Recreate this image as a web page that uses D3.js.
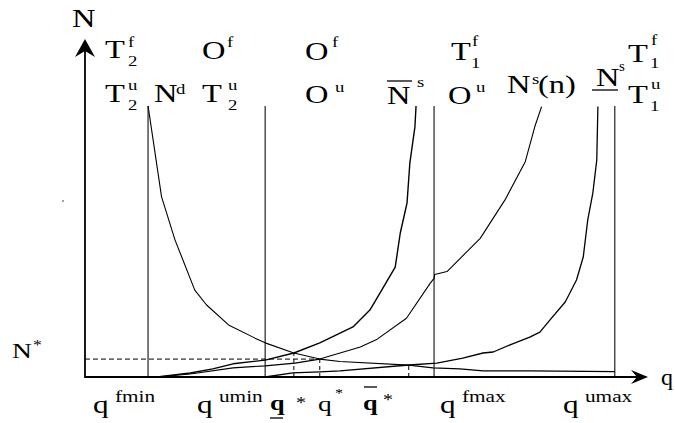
<!DOCTYPE html>
<html>
<head>
<meta charset="utf-8">
<script src="https://cdn.jsdelivr.net/npm/d3@7"></script>
<style>
    html, body { margin: 0; padding: 0; background: #fff; }
    svg { display: block; }
    text { fill: #000; }
</style>
</head>
<body>
<div class="chart-container"></div>
<script>
// Data (q on the horizontal axis, N on the vertical axis, both 0..100).
const boundNames = ['fmin', 'umin', 'fmax', 'umax'];
const boundQ = [11.2, 32.0, 62.0, 94.1];
const boundTop = 80.2;

// equilibrium points: q_*, q*, q-bar*
const eqQ = [37.1, 41.7, 57.5];
const eqN = [7.1, 5.3, 3.55];
const nStar = 5.3;

// N^d (demand)
const demandQ = [11.2, 13.6, 16.0, 19.5, 21.6, 25.5, 30.2, 32.0, 37.1, 41.7, 45.3, 57.5, 61.8, 66.6, 70.7, 79.0, 94.1];
const demandN = [80.2, 53.3, 40.5, 25.7, 21.3, 15.4, 11.5, 10.1, 7.1, 5.3, 4.6, 3.5, 2.7, 2.4, 1.8, 1.8, 1.6];

// upper supply bound (N-bar^s)
const upperQ = [12.8, 18.7, 22.7, 26.3, 32.0, 37.1, 41.7, 45.3, 47.6, 50.6, 52.7, 55.1, 56.0, 57.2, 57.7, 58.6, 58.8];
const upperN = [0, 1.2, 2.4, 3.9, 5.0, 7.1, 10.1, 13.0, 14.8, 19.8, 25.7, 32.5, 42.6, 51.5, 63.3, 74.0, 80.2];

// N^s(n)
const supplyQ = [12.8, 18.7, 26.3, 32.0, 37.3, 41.7, 48.9, 51.9, 57.1, 61.3, 62.0, 62.1, 64.3, 70.2, 74.6, 78.2, 79.9, 81.1];
const supplyN = [0, 0.9, 2.7, 3.3, 4.1, 5.3, 8.9, 11.2, 17.4, 27.7, 29.2, 30.3, 31.2, 41.0, 52.4, 63.7, 74.1, 80.0];

// lower supply bound (N-underline^s)
const lowerQ = [32.0, 36.9, 41.7, 45.3, 57.5, 62.5, 67.1, 70.7, 72.5, 75.5, 79.0, 80.8, 82.6, 85.3, 87.3, 88.5, 89.3, 90.2, 90.9, 91.1];
const lowerN = [0, 1.2, 1.5, 1.8, 3.55, 4.1, 5.6, 7.1, 7.4, 9.5, 11.8, 13.3, 16.9, 22.2, 28.7, 35.5, 46.5, 54.4, 64.2, 80.0];

const WIDTH = 675;
const HEIGHT = 423;
const SX = 1.25; // the original lettering is drawn wide
const FONT = '"Liberation Serif", "Times New Roman", Times, serif';

const svg = d3
    .select('.chart-container')
    .append('svg')
    .attr('width', WIDTH)
    .attr('height', HEIGHT);

const x = d3.scaleLinear().domain([0, 100]).range([85, 648]);
const y = d3.scaleLinear().domain([0, 100]).range([377, 39]);

const lineGenerator = d3.line()
    .x(d => x(d[0]))
    .y(d => y(d[1]));

function zip(qs, ns) {
    return qs.map((q, i) => [q, ns[i]]);
}

function drawAxes() {
    const g = svg.append('g').attr('class', 'axes');

    g.append('line')
        .attr('x1', x(0)).attr('y1', y(0))
        .attr('x2', x(100) - 10).attr('y2', y(0))
        .attr('stroke', '#000').attr('stroke-width', 1.8);

    g.append('line')
        .attr('x1', x(0)).attr('y1', y(0) + 1)
        .attr('x2', x(0)).attr('y2', y(100) + 10)
        .attr('stroke', '#000').attr('stroke-width', 1.8);

    // arrow heads
    const tx = x(100), ty = y(0);
    g.append('path')
        .attr('d', `M${tx},${ty} L${tx - 17},${ty - 7} L${tx - 11},${ty} L${tx - 17},${ty + 7} Z`)
        .attr('fill', '#000');

    const ax = x(0), ay = y(100);
    g.append('path')
        .attr('d', `M${ax},${ay} L${ax - 10},${ay + 18} L${ax},${ay + 12} L${ax + 10},${ay + 18} Z`)
        .attr('fill', '#000');
}

function drawBounds() {
    svg.append('g')
        .selectAll('line')
        .data(boundQ)
        .enter()
        .append('line')
        .attr('x1', d => x(d)).attr('x2', d => x(d))
        .attr('y1', y(0)).attr('y2', y(boundTop))
        .attr('stroke', '#222')
        .attr('stroke-width', 1.2);
}

function drawDashed() {
    const g = svg.append('g').attr('class', 'dashed');

    g.append('line')
        .attr('x1', x(0)).attr('x2', x(eqQ[1]))
        .attr('y1', y(nStar)).attr('y2', y(nStar))
        .attr('stroke', '#000').attr('stroke-width', 1)
        .attr('stroke-dasharray', '5,3');

    g.selectAll('.eq')
        .data(eqQ)
        .enter()
        .append('line')
        .attr('class', 'eq')
        .attr('x1', d => x(d)).attr('x2', d => x(d))
        .attr('y1', y(0)).attr('y2', (d, i) => y(eqN[i]))
        .attr('stroke', '#000').attr('stroke-width', 1)
        .attr('stroke-dasharray', '4,3');
}

function drawCurves() {
    const curves = [
        {points: zip(demandQ, demandN), width: 1.1},
        {points: zip(upperQ, upperN), width: 1.4},
        {points: zip(supplyQ, supplyN), width: 1.1},
        {points: zip(lowerQ, lowerN), width: 1.3}
    ];

    svg.append('g')
        .selectAll('path')
        .data(curves)
        .enter()
        .append('path')
        .attr('d', d => lineGenerator(d.points))
        .style('fill', 'none')
        .attr('stroke', '#000')
        .attr('stroke-width', d => d.width)
        .attr('stroke-linejoin', 'round');
}

// text helper: one piece of lettering, stretched horizontally
function put(g, str, px, py, size, bold, sx) {
    g.append('text')
        .attr('transform', `translate(${px}, ${py}) scale(${sx || SX}, 1)`)
        .attr('font-family', FONT)
        .attr('font-size', size)
        .attr('font-weight', bold ? 'bold' : 'normal')
        .text(str);
}

function rule(g, x1, x2, yy) {
    g.append('line')
        .attr('x1', x1).attr('x2', x2)
        .attr('y1', yy).attr('y2', yy)
        .attr('stroke', '#000').attr('stroke-width', 1.3);
}

function drawLabels() {
    const g = svg.append('g').attr('class', 'labels');

    // axis names
    put(g, 'N', 72, 27, 26);
    put(g, 'q', 661, 385, 24, false, 1);

    // top row
    put(g, 'T', 105, 58, 26); put(g, 'f', 128, 47, 15); put(g, '2', 128, 66, 15);
    put(g, 'O', 202, 59, 26); put(g, 'f', 227, 47, 15);
    put(g, 'O', 305, 60, 26); put(g, 'f', 332, 47, 15);
    put(g, 'T', 451, 60, 26); put(g, 'f', 472, 46, 15); put(g, '1', 471, 68, 15);
    put(g, 'T', 628, 62, 26); put(g, 'f', 651, 45, 15); put(g, '1', 650, 68, 15);

    // second row
    put(g, 'T', 105, 102, 26); put(g, 'u', 128, 90, 15); put(g, '2', 128, 110, 15);
    put(g, 'N', 154, 102, 26); put(g, 'd', 176, 94, 15);
    put(g, 'T', 202, 102, 26); put(g, 'u', 228, 90, 15); put(g, '2', 228, 110, 15);
    put(g, 'O', 305, 103, 26); put(g, 'u', 335, 92, 15);
    put(g, 'N', 387, 104, 26); rule(g, 387, 412, 81); put(g, 's', 417, 87, 15);
    put(g, 'O', 448, 104, 26); put(g, 'u', 476, 92, 15);
    put(g, 'N', 507, 93, 26); put(g, 's', 532, 84, 15); put(g, '(n)', 538, 93, 26);
    put(g, 'N', 596, 86, 26); rule(g, 592, 618, 90); put(g, 's', 619, 71, 15, false, 1);
    put(g, 'T', 628, 103, 26); put(g, 'u', 651, 89, 15); put(g, '1', 650, 111, 15);

    // value labels under the axis
    const qLabelX = [93, 197, 440, 563];
    boundNames.forEach((name, i) => {
        put(g, 'q', qLabelX[i], 413, 25);
        put(g, name, qLabelX[i] + 22, 402, 17);
    });

    put(g, 'q', 270, 410, 21, true); rule(g, 270, 283, 418); put(g, '*', 296, 408, 16);
    put(g, 'q', 318, 411, 22); put(g, '*', 335, 397, 13);
    put(g, 'q', 363, 410, 21, true); rule(g, 364, 377, 387); put(g, '*', 383, 405, 16);

    // N*
    put(g, 'N', 12, 358, 22); put(g, '*', 33, 350, 14);

    // stray dot in the original
    g.append('circle').attr('cx', 63).attr('cy', 201).attr('r', 0.7).attr('fill', '#000');
}

drawBounds();
drawDashed();
drawCurves();
drawAxes();
drawLabels();
</script>
</body>
</html>
